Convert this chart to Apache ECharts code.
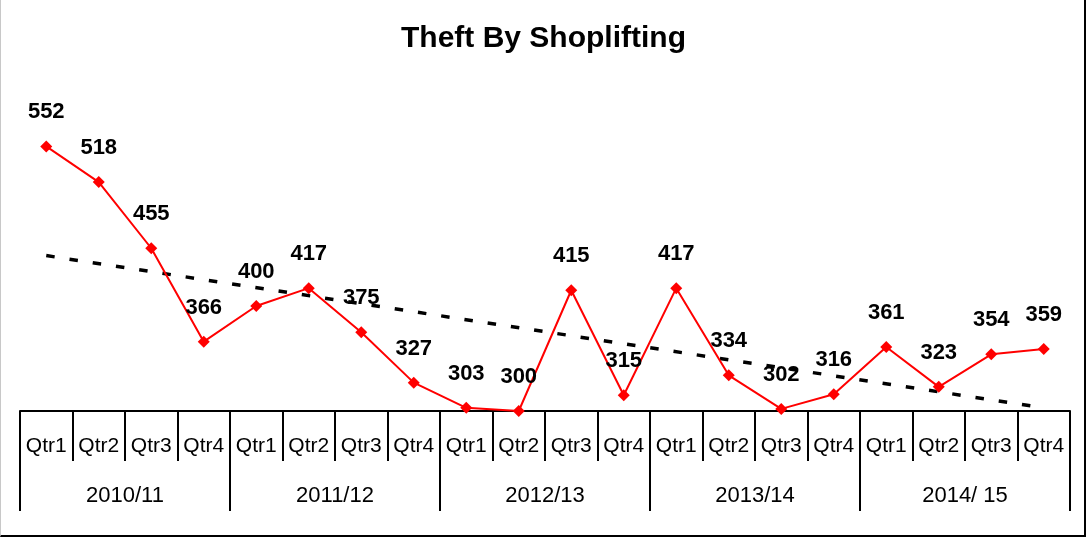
<!DOCTYPE html>
<html>
<head>
<meta charset="utf-8">
<script src="https://cdn.jsdelivr.net/npm/echarts@6/dist/echarts.min.js"></script>
<style>
html,body{margin:0;padding:0;background:#fff;}
#chart{position:absolute;left:0;top:0;width:1087px;height:538px;}
#frame{position:absolute;left:0;top:0;width:1083px;height:535px;border-left:1px solid #c8c8c8;border-right:2px solid #000;border-bottom:2px solid #000;pointer-events:none;}
</style>
</head>
<body>
<div id="chart"></div>
<div id="frame"></div>
<script>
const quarters = ['Qtr1','Qtr2','Qtr3','Qtr4','Qtr1','Qtr2','Qtr3','Qtr4','Qtr1','Qtr2','Qtr3','Qtr4','Qtr1','Qtr2','Qtr3','Qtr4','Qtr1','Qtr2','Qtr3','Qtr4'];
const years = ['2010/11','2011/12','2012/13','2013/14','2014/ 15'];
const values = [552,518,455,366,400,417,375,327,303,300,415,315,417,334,302,316,361,323,354,359];
const trendStart = 448;
const trendEnd = 303;

const chart = echarts.init(document.getElementById('chart'), null, {renderer:'canvas'});
const font = '"Liberation Sans", Arial, sans-serif';
chart.setOption({
  animation:false,
  backgroundColor:'#fff',
  title:{
    text:'Theft By Shoplifting',
    left:'center', top:19,
    textStyle:{fontFamily:font, fontWeight:'bold', fontSize:30, color:'#000'}
  },
  grid:{left:20, right:17, top:96, bottom:127, containLabel:false},
  xAxis:[{
    type:'category',
    data:quarters,
    boundaryGap:true,
    axisLine:{show:true, lineStyle:{color:'#000', width:2}},
    axisTick:{show:true, length:50, lineStyle:{color:'#000', width:2}},
    axisLabel:{margin:25, fontFamily:font, fontSize:21, color:'#000', interval:0}
  },{
    type:'category',
    data:years,
    position:'bottom',
    boundaryGap:true,
    axisLine:{show:false},
    axisTick:{show:true, length:100, lineStyle:{color:'#000', width:2}},
    axisLabel:{margin:74, fontFamily:font, fontSize:22, color:'#000', interval:0}
  }],
  yAxis:{type:'value', min:300, max:600, show:false, splitLine:{show:false}},
  series:[{
    type:'line',
    data:[[0,trendStart],[quarters.length-1,trendEnd]],
    symbol:'none',
    lineStyle:{color:'#000', width:3.5, type:[8.5,15]},
    silent:true,
    z:1
  },{
    type:'line',
    data:values,
    symbol:'diamond',
    symbolSize:12,
    itemStyle:{color:'#ff0000'},
    lineStyle:{color:'#ff0000', width:2},
    label:{show:true, position:'top', distance:17, fontFamily:font, fontWeight:'bold', fontSize:22, color:'#000'},
    z:3
  }]
});
</script>
</body>
</html>
